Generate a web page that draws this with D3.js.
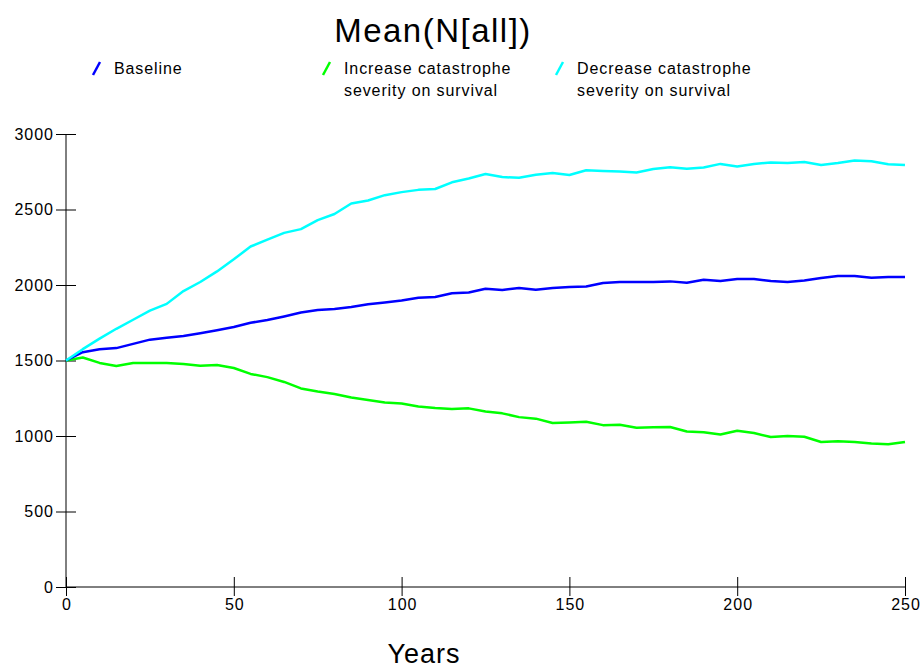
<!DOCTYPE html>
<html><head><meta charset="utf-8">
<script src="https://cdn.jsdelivr.net/npm/d3@7"></script>
<style>body{margin:0;background:#fff}svg{display:block}text{font-family:"Liberation Sans",Arial,sans-serif}</style>
</head><body>
<svg id="chart" width="920" height="669"></svg>
<script>
const years = d3.range(0, 251, 5);
const baseline = [1500,1555,1575,1582,1610,1638,1650,1662,1680,1700,1722,1750,1768,1792,1818,1835,1841,1855,1872,1884,1898,1915,1921,1945,1950,1975,1967,1980,1968,1980,1987,1990,2013,2020,2020,2020,2024,2015,2035,2026,2040,2040,2026,2020,2030,2046,2060,2060,2048,2053,2053];
const increase = [1500,1520,1484,1464,1484,1484,1484,1477,1465,1470,1450,1411,1390,1358,1315,1295,1278,1255,1238,1222,1215,1195,1185,1179,1183,1162,1150,1125,1115,1086,1090,1095,1072,1075,1055,1058,1060,1030,1025,1010,1035,1020,993,1000,995,960,965,960,950,945,960];
const decrease = [1500,1575,1645,1710,1770,1830,1875,1960,2020,2090,2170,2255,2300,2345,2370,2430,2470,2540,2560,2595,2615,2630,2636,2680,2705,2735,2715,2710,2730,2742,2729,2760,2755,2752,2745,2768,2780,2770,2778,2802,2785,2802,2812,2808,2815,2795,2808,2825,2820,2800,2795];
const seriesNames = ["Baseline", "Increase catastrophe|severity on survival", "Decrease catastrophe|severity on survival"];
const seriesColors = ["#0000ff", "#00ff00", "#00ffff"];
const xTicks = [0, 50, 100, 150, 200, 250];
const yTicks = [0, 500, 1000, 1500, 2000, 2500, 3000];

const svg = d3.select("#chart");
const x = d3.scaleLinear().domain([0, 250]).range([66, 905]);
const y = d3.scaleLinear().domain([0, 3000]).range([587, 134]);

// title
svg.append("text").attr("x", 433).attr("y", 42).attr("text-anchor", "middle")
  .attr("font-size", 33).attr("letter-spacing", 1.5).text("Mean(N[all])");
svg.append("text").attr("x", 424).attr("y", 663).attr("text-anchor", "middle")
  .attr("font-size", 27).attr("letter-spacing", 1).text("Years");

// axes
const fmt = d3.format("d");
const yAxis = svg.append("g").attr("transform", "translate(66,0)")
  .call(d3.axisLeft(y).tickValues(yTicks).tickFormat(fmt).tickSize(10).tickPadding(3));
yAxis.selectAll(".tick line").attr("x2", 10).attr("x1", -10).attr("stroke", "#000");
yAxis.select(".domain").attr("d", `M0,${y(3000)}V${y(0)}`).attr("stroke", "#000");
yAxis.selectAll("text").attr("x", -12).attr("font-size", 16).attr("letter-spacing", 1).attr("fill", "#000");

const xAxis = svg.append("g").attr("transform", "translate(0,587)")
  .call(d3.axisBottom(x).tickValues(xTicks).tickFormat(fmt).tickSize(10).tickPadding(3));
xAxis.selectAll(".tick line").attr("y1", -10).attr("y2", 9).attr("stroke", "#000");
xAxis.select(".domain").attr("d", `M${x(0)},0H${x(250)}`).attr("stroke", "#000");
xAxis.selectAll("text").attr("y", 12).attr("dx", 0.5).attr("font-size", 16).attr("letter-spacing", 1).attr("fill", "#000");
svg.selectAll(".tick text").attr("font-family", '"Liberation Sans",Arial,sans-serif');

// lines
const allSeries = [baseline, increase, decrease];
const line = d3.line().x((d, i) => x(years[i])).y(d => y(d));
[1, 0, 2].forEach(k => {
  svg.append("path").datum(allSeries[k]).attr("d", line)
    .attr("fill", "none").attr("stroke", seriesColors[k]).attr("stroke-width", 2.5)
    .attr("stroke-linejoin", "round");
});

// legend
const legendX = [92, 322, 555];
seriesNames.forEach((name, k) => {
  const g = svg.append("g").attr("transform", `translate(${legendX[k]},0)`);
  g.append("line").attr("x1", 1).attr("y1", 75).attr("x2", 8).attr("y2", 62)
    .attr("stroke", seriesColors[k]).attr("stroke-width", 2.5);
  name.split("|").forEach((t, j) => {
    g.append("text").attr("x", 22).attr("y", 74 + j * 22).attr("font-size", 16)
      .attr("letter-spacing", 0.9).text(t);
  });
});
</script>
</body></html>
